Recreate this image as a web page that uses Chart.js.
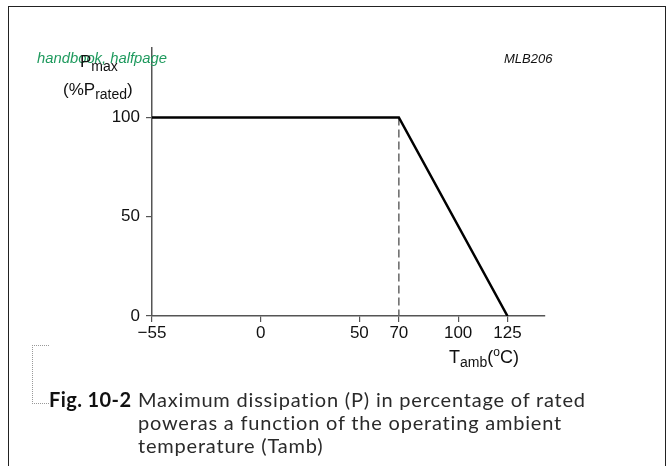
<!DOCTYPE html>
<html>
<head>
<meta charset="utf-8">
<script src="https://cdn.jsdelivr.net/npm/chart.js@4.4.1/dist/chart.umd.min.js"></script>
<style>
  html, body { margin: 0; padding: 0; background: #fff; width: 672px; height: 466px; overflow: hidden; }
  #wrap { position: relative; width: 672px; height: 466px; }
  #frame { position: absolute; left: 8px; top: 6px; width: 656px; height: 500px; border: 1.5px solid #222; }
  canvas { position: absolute; left: 0; top: 0; }
  .lbl { position: absolute; font-family: "Liberation Sans", Arial, sans-serif; color: #111; white-space: nowrap; line-height: 1; }
  .lbl sub { font-size: 14px; vertical-align: -4px; }
  .lbl sup { font-size: 12px; vertical-align: 7px; }
  #handbook { left: 37px; top: 51px; font-size: 14.8px; font-style: italic; color: #1f9a5e; }
  #code { left: 504px; top: 52px; font-size: 13px; font-style: italic; }
  #pmax { left: 80px; top: 53px; font-size: 17px; }
  #prated { left: 63px; top: 81px; font-size: 17px; }
  #tamb { left: 449px; top: 346px; font-size: 18px; }
  #bracket { position: absolute; left: 32px; top: 345px; width: 16px; height: 57px; border: 1px dotted #999; border-right: none; }
  #caption { position: absolute; left: 49px; top: 388px; font-family: Lato, "Open Sans", sans-serif; font-size: 20px; line-height: 23px; letter-spacing: 0.8px; color: #2a2a2a; }
  #caption b { position: absolute; left: 0; top: 0; color: #111; letter-spacing: 0.4px; }
  #caption div { padding-left: 89px; }
</style>
</head>
<body>
<div id="wrap">
  <div id="frame"></div>
  <canvas id="chart" width="672" height="466"></canvas>
  <div class="lbl" id="handbook">handbook, halfpage</div>
  <div class="lbl" id="code">MLB206</div>
  <div class="lbl" id="pmax">P<sub>max</sub></div>
  <div class="lbl" id="prated">(%P<sub>rated</sub>)</div>
  <div class="lbl" id="tamb">T<sub>amb</sub>(<sup>o</sup>C)</div>
  <div id="bracket"></div>
  <div id="caption">
    <b>Fig. 10-2</b>
    <div>Maximum dissipation (P) in percentage of rated<br>poweras a function of the operating ambient<br>temperature (Tamb)</div>
  </div>
</div>
<script>
// derating curve
const tempPoints = [-55, 70, 125];
const powerPoints = [100, 100, 0];

// dashed marker at the knee
const kneeTemp = [70, 70];
const kneePower = [100, 0];

const xTickValues = [-55, 0, 50, 70, 100, 125];
const yTickValues = [0, 50, 100];

const axisColor = '#555';
const tickFont = { family: 'Liberation Sans', size: 17 };

function toPoints(xs, ys) {
    return xs.map((x, i) => ({ x: x, y: ys[i] }));
}

const ctx = document.getElementById('chart').getContext('2d');

new Chart(ctx, {
    type: 'line',
    data: {
        datasets: [{
            data: toPoints(tempPoints, powerPoints),
            borderColor: '#000',
            borderWidth: 2.5,
            pointRadius: 0,
            tension: 0
        }, {
            data: toPoints(kneeTemp, kneePower),
            borderColor: '#666',
            borderWidth: 1.5,
            borderDash: [8, 4],
            pointRadius: 0
        }]
    },
    options: {
        responsive: false,
        animation: false,
        layout: { padding: { top: 48, right: 127, left: 0, bottom: 0 } },
        plugins: { legend: { display: false }, tooltip: { enabled: false } },
        scales: {
            x: {
                type: 'linear',
                min: -55,
                max: 144,
                border: { display: true, color: axisColor, width: 1.5 },
                grid: { drawOnChartArea: false, drawTicks: true, tickLength: 6, color: axisColor, lineWidth: 1.2 },
                ticks: {
                    font: tickFont,
                    color: '#111',
                    padding: 1,
                    maxRotation: 0,
                    autoSkip: false,
                    callback: v => String(v).replace('-', '\u2212')
                },
                afterBuildTicks: s => { s.ticks = xTickValues.map(v => ({ value: v })); },
                afterFit: s => { s.height = 150; }
            },
            y: {
                min: 0,
                max: 135,
                border: { display: true, color: axisColor, width: 1.5 },
                grid: { drawOnChartArea: false, drawTicks: true, tickLength: 6, color: axisColor, lineWidth: 1.2 },
                ticks: { font: tickFont, color: '#111', padding: 6 },
                afterBuildTicks: s => { s.ticks = yTickValues.map(v => ({ value: v })); },
                afterFit: s => { s.width = 152; }
            }
        }
    }
});
</script>
</body>
</html>
